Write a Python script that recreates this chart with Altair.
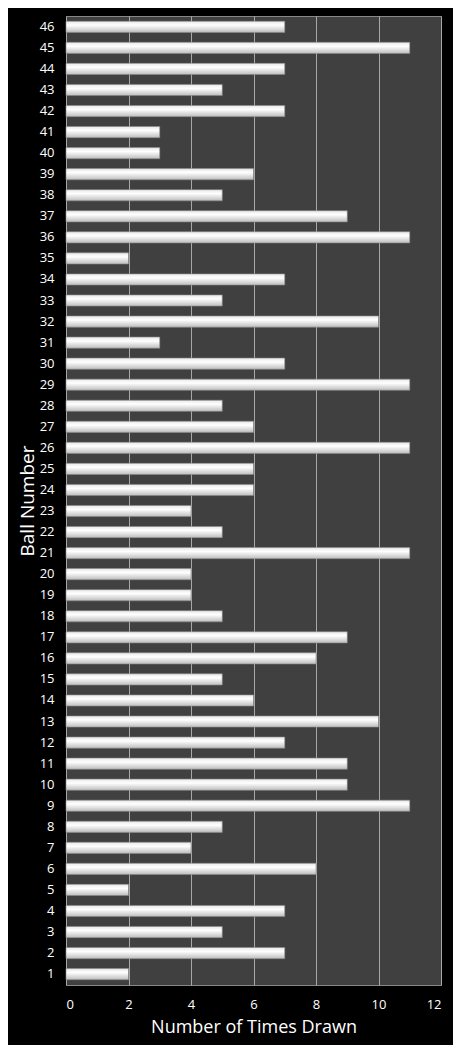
import altair as alt
import pandas as pd

balls = list(range(1, 47))
counts = [2, 7, 5, 7, 2, 8, 4, 5, 11, 9,
          9, 7, 10, 6, 5, 8, 9, 5, 4, 4,
          11, 5, 4, 6, 6, 11, 6, 5, 11, 7,
          3, 10, 5, 7, 2, 11, 9, 5, 6, 3,
          3, 7, 5, 7, 11, 7]
x_ticks = [0, 2, 4, 6, 8, 10, 12]

df = pd.DataFrame({"ball": balls, "count": counts})

grad = alt.LinearGradient(
    gradient="linear",
    x1=0, x2=0, y1=0, y2=1,
    stops=[
        alt.GradientStop(offset=0, color="#e8e8e8"),
        alt.GradientStop(offset=0.35, color="#ffffff"),
        alt.GradientStop(offset=1, color="#bdbdbd"),
    ],
)

FONT = "Open Sans"

chart = (
    alt.Chart(df)
    .mark_bar(color=grad, stroke="#8a8a8a", strokeWidth=0.6)
    .encode(
        x=alt.X(
            "count:Q",
            scale=alt.Scale(domain=[0, 12], nice=False),
            axis=alt.Axis(
                values=x_ticks,
                title="Number of Times Drawn",
                titleFontSize=18,
                titleFontWeight="normal",
                titleColor="white",
                titleFont=FONT,
                titlePadding=7,
                labelColor="white",
                labelFont=FONT,
                labelFontSize=13,
                labelPadding=13,
                ticks=False,
                domain=False,
                grid=True,
                gridColor="#a8a8a8",
                gridWidth=1,
            ),
        ),
        y=alt.Y(
            "ball:O",
            sort="descending",
            scale=alt.Scale(paddingInner=0.47, paddingOuter=0.25),
            axis=alt.Axis(
                title="Ball Number",
                titleFontSize=19,
                titleFontWeight="normal",
                titleColor="white",
                titleFont=FONT,
                titlePadding=2,
                labelColor="white",
                labelFont=FONT,
                labelFontSize=13,
                labelPadding=12,
                ticks=False,
                domain=False,
                grid=False,
            ),
        ),
    )
    .properties(
        width=375,
        height=969,
        background="black",
        padding={"left": 58, "top": 8, "right": 12, "bottom": 60},
        autosize=alt.AutoSizeParams(type="none"),
    )
    .configure_view(fill="#404040", stroke="#888888", strokeWidth=1)
)

chart.save("out.html", embed_options={"renderer": "svg", "actions": False})
